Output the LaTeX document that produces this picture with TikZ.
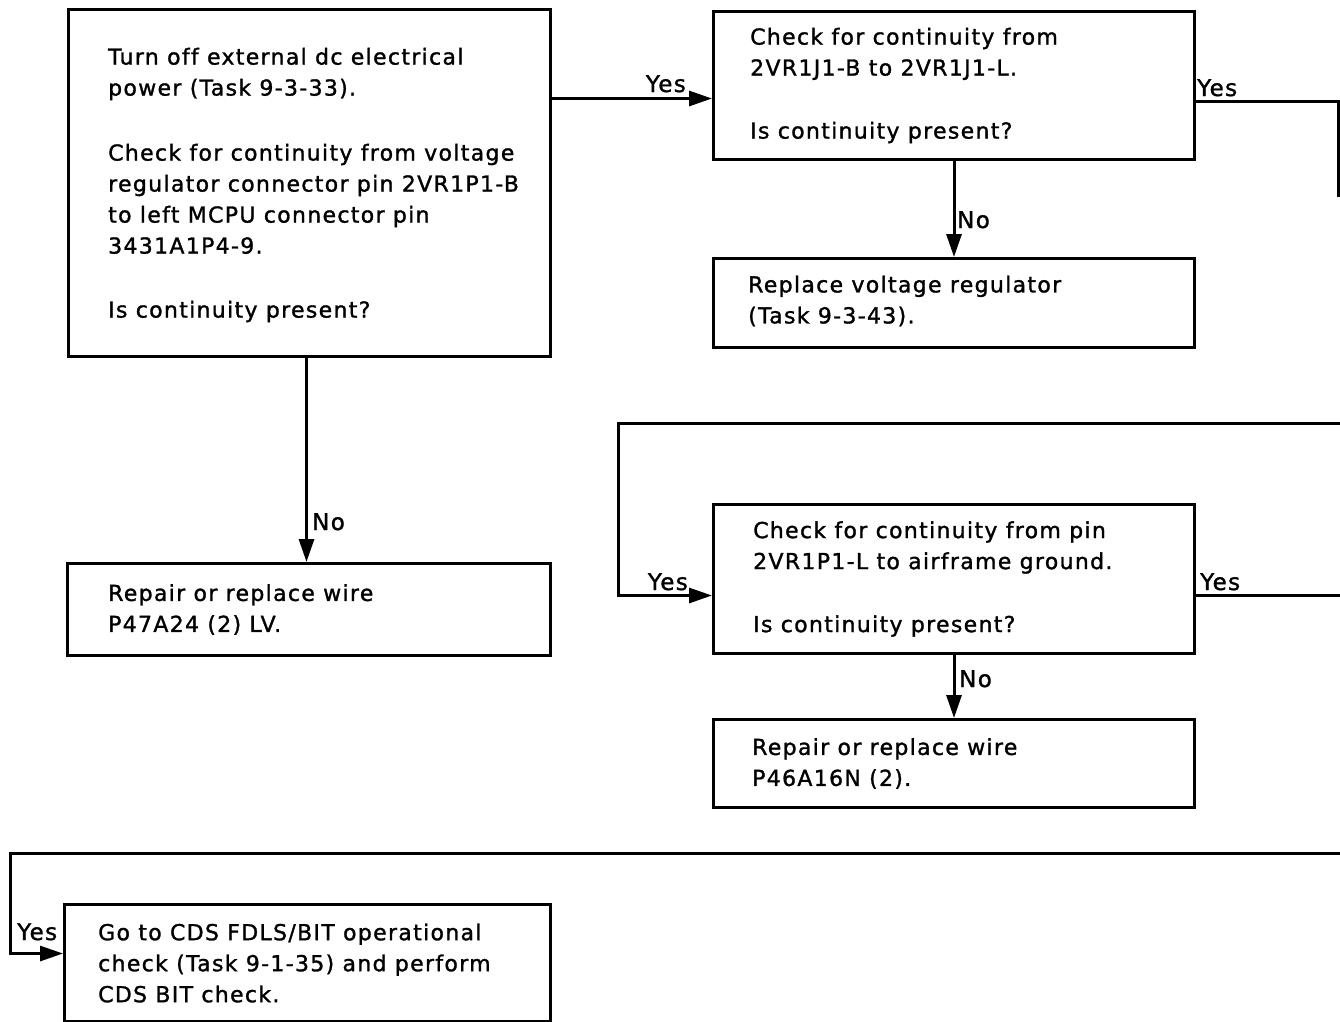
\documentclass[tikz,border=0pt]{standalone}
\usepackage{fontspec}
\setmainfont{DejaVu Sans}[LetterSpace=6,Ligatures=CommonOff,FakeBold=1.3]
\usetikzlibrary{arrows.meta,calc}
\begin{document}
\begin{tikzpicture}[x=1pt,y=-1pt,
 box/.style={draw, line width=3pt, anchor=north west, inner sep=0pt},
 txt/.style={anchor=west, align=left, inner sep=0pt, font=\fontsize{22}{31}\selectfont},
 lbl/.style={inner sep=0pt, font=\fontsize{23}{26}\selectfont},
 wire/.style={line width=3pt},
 arr/.style={wire, -{Triangle[length=23pt,width=15pt]}}]
\useasboundingbox[fill=white] (0,0) rectangle (1340,1021);

% boxes
\node[box, minimum width=482pt, minimum height=347pt] (A) at (67,8) {};
\node[box, minimum width=481pt, minimum height=148pt] (B) at (712,10) {};
\node[box, minimum width=481pt, minimum height=89pt] (C) at (712,257) {};
\node[box, minimum width=483pt, minimum height=92pt] (D) at (66,562) {};
\node[box, minimum width=481pt, minimum height=149pt] (E) at (712,503) {};
\node[box, minimum width=481pt, minimum height=88pt] (F) at (712,718) {};
\node[box, minimum width=486pt, minimum height=117pt] (G) at (63,903) {};

% texts
\node[txt] (At) at ([xshift=41pt,yshift=-2pt]A.west) {Turn off external dc electrical\\power (Task 9-3-33).\\[34pt]Check for continuity from voltage\\regulator connector pin 2VR1P1-B\\to left MCPU connector pin\\3431A1P4-9.\\[33pt]Is continuity present?};
\node[txt] (Bt) at ([xshift=38pt]B.west) {Check for continuity from\\2VR1J1-B to 2VR1J1-L.\\[32pt]Is continuity present?};
\node[txt] (Ct) at ([xshift=36pt,yshift=2pt]C.west) {Replace voltage regulator\\(Task 9-3-43).};
\node[txt] (Dt) at ([xshift=42pt]D.west) {Repair or replace wire\\P47A24 (2) LV.};
\node[txt] (Et) at ([xshift=41pt]E.west) {Check for continuity from pin\\2VR1P1-L to airframe ground.\\[32pt]Is continuity present?};
\node[txt] (Ft) at ([xshift=40pt]F.west) {Repair or replace wire\\P46A16N (2).};
\node[txt] (Gt) at ([xshift=35pt]G.west) {Go to CDS FDLS/BIT operational\\check (Task 9-1-35) and perform\\CDS BIT check.};

% coordinates for connector ends
\coordinate (Bin) at ([yshift=-13pt]B.west);
\coordinate (Bout) at ([yshift=-16pt]B.east);
\coordinate (R1) at (1338,197);
\coordinate (R2) at (1340,423);
\coordinate (Ein) at ([yshift=-16.5pt]E.west);
\coordinate (Eout) at ([yshift=-16.5pt]E.east);
\coordinate (R3) at (1340,853);
\coordinate (Gin) at ([yshift=9.5pt]G.west);
\coordinate (Aout) at ([xshift=-3pt]A.south);

% connectors
\draw[arr] (A.east |- Bin) -- (Bin);
\node[lbl, anchor=base east] (y1) at (686,92) {Yes};

\draw[wire] (Bout) -| (R1);
\node[lbl, anchor=base west] (y2) at (1197,96) {Yes};

\draw[arr] (B.south) -- (C.north);
\node[lbl, anchor=base west] (n1) at (957,228) {No};

\draw[arr] (Aout) -- (Aout |- D.north);
\node[lbl, anchor=base west] (n2) at (312,530) {No};

\draw[arr] (R2) -| ([xshift=-94pt]Ein) -- (Ein);
\node[lbl, anchor=base east] (y3) at (688,590) {Yes};

\draw[wire] (Eout) -- (Eout -| R2);
\node[lbl, anchor=base west] (y4) at (1200,590) {Yes};

\draw[arr] (E.south) -- (F.north);
\node[lbl, anchor=base west] (n3) at (959,687) {No};

\draw[arr] (R3) -| ([xshift=-53pt]Gin) -- (Gin);
\node[lbl, anchor=base west] (y5) at (17,940) {Yes};
\end{tikzpicture}
\end{document}
